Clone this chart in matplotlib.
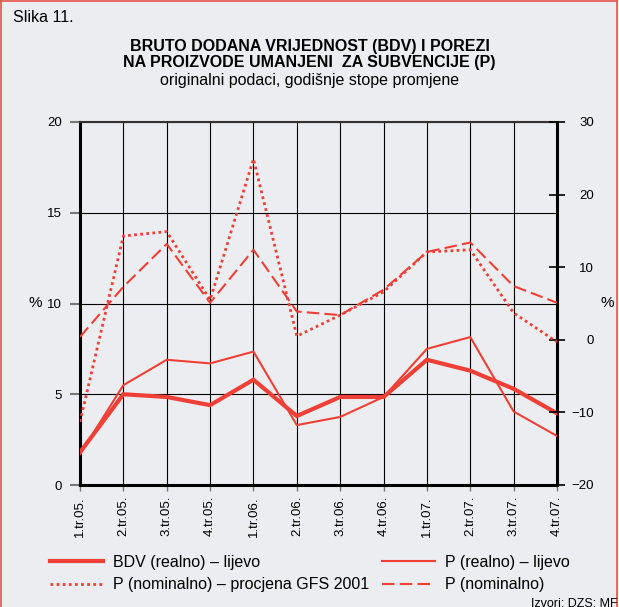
import matplotlib.pyplot as plt
from matplotlib.lines import Line2D

plt.rcParams['font.family'] = ['Liberation Sans', 'DejaVu Sans']

# quarters
quarters = ['1.tr.05.', '2.tr.05.', '3.tr.05.', '4.tr.05.',
            '1.tr.06.', '2.tr.06.', '3.tr.06.', '4.tr.06.',
            '1.tr.07.', '2.tr.07.', '3.tr.07.', '4.tr.07.']

# left axis (%)
bdv_realno = [1.8, 5.0, 4.85, 4.4, 5.8, 3.8, 4.85, 4.85, 6.9, 6.3, 5.3, 3.95]
p_realno = [1.7, 5.5, 6.9, 6.7, 7.35, 3.3, 3.75, 4.85, 7.5, 8.15, 4.05, 2.7]

# right axis (%)
p_nom_gfs = [-11.3, 14.3, 14.9, 5.5, 24.9, 0.5, 3.4, 6.6, 12.1, 12.4, 3.7, -0.3]
p_nom = [0.4, 7.3, 13.2, 5.1, 12.4, 3.9, 3.4, 6.9, 12.1, 13.4, 7.4, 5.1]

red = '#EE4036'
bg = '#ECEDF0'

fig = plt.figure(figsize=(6.19, 6.07), dpi=100, facecolor=bg)
ax = fig.add_axes([80/619, 1-485/607, 477/619, 363/607])
ax.set_facecolor(bg)
x = list(range(len(quarters)))

ax.plot(x, bdv_realno, color=red, lw=3.0, solid_joinstyle='miter', zorder=5)
ax.plot(x, p_realno, color=red, lw=1.5, zorder=5)
ax.set_ylim(0, 20)
ax.set_xlim(0, 11)
ax.set_yticks([0, 5, 10, 15, 20])
ax.set_xticks(x)
ax.set_xticklabels(quarters, rotation=90, fontsize=9.5)
ax.tick_params(axis='y', length=7, width=1.5, color='#777777', pad=6, labelsize=9.5)
ax.tick_params(axis='x', length=4, width=1, color='#777777', pad=4)
ax.grid(True, color='black', lw=0.8)
ax.set_axisbelow(True)
for s in ['left', 'bottom', 'right']:
    ax.spines[s].set_linewidth(2.2)
ax.spines['top'].set_linewidth(1.5)
ax.spines['top'].set_color('#333333')

ax2 = ax.twinx()
ax2.plot(x, p_nom_gfs, color=red, lw=2.0, ls=(0, (1, 1.2)), zorder=5)
ax2.plot(x, p_nom, color=red, lw=1.5, ls=(0, (6, 2.5)), zorder=5)
ax2.set_ylim(-20, 30)
ax2.set_yticks([-20, -10, 0, 10, 20, 30])
ax2.set_yticklabels(['\u221220', '\u221210', '0', '10', '20', '30'])
ax2.tick_params(axis='y', direction='inout', length=11, width=1.2, pad=21, labelsize=9.5)
for lab in ax2.get_yticklabels():
    lab.set_horizontalalignment('right')
for s in ax2.spines.values():
    s.set_visible(False)

fig.text(35/619, 1-303/607, '%', fontsize=11, ha='center', va='center')
fig.text(607/619, 1-303/607, '%', fontsize=11, ha='center', va='center')

fig.text(13/619, 1-18/607, 'Slika 11.', fontsize=11.5, ha='left', va='center')
fig.text(0.5, 1-47/607, 'BRUTO DODANA VRIJEDNOST (BDV) I POREZI',
         fontsize=11.5, fontweight='bold', ha='center', va='center')
fig.text(0.5, 1-63/607, 'NA PROIZVODE UMANJENI  ZA SUBVENCIJE (P)',
         fontsize=11.5, fontweight='bold', ha='center', va='center')
fig.text(0.5, 1-80/607, 'originalni podaci, godišnje stope promjene', fontsize=11.5,
         ha='center', va='center')

handles = [Line2D([], [], color=red, lw=3.0),
           Line2D([], [], color=red, lw=2.0, ls=(0, (1, 1.2))),
           Line2D([], [], color=red, lw=1.5),
           Line2D([], [], color=red, lw=1.5, ls=(0, (6, 2.5)))]
labels = ['BDV (realno) \u2013 lijevo', 'P (nominalno) \u2013 procjena GFS 2001',
          'P (realno) \u2013 lijevo', 'P (nominalno)']
fig.legend(handles, labels, ncol=2, frameon=False, fontsize=11.5,
           loc='center left', bbox_to_anchor=(50/619, 1-573.5/607),
           borderaxespad=0, borderpad=0,
           handlelength=3.3, columnspacing=0.8, labelspacing=0.45, handletextpad=0.65)

fig.text(0.997, 0.0, 'Izvori: DZS; MF', fontsize=9, ha='right', va='baseline')

# red frame
for xs, ys in [([0.002, 0.002], [0, 0.998]), ([0.002, 0.997], [0.998, 0.998]),
               ([0.997, 0.997], [0, 0.998])]:
    fig.add_artist(Line2D(xs, ys, color='#E8504A', lw=1.2, transform=fig.transFigure))

fig.savefig('out.png', dpi=100, facecolor=bg)
